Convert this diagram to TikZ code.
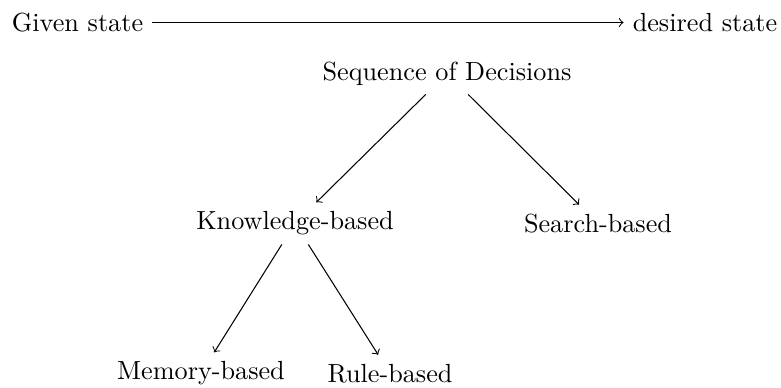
\documentclass[tikz,border=0pt]{standalone}
\begin{document}
\begin{tikzpicture}[x=0.3817pt, y=-0.3817pt,
  label/.style={inner sep=3.333pt},
  link/.style={->}]
  % canvas
  \useasboundingbox (0,0) rectangle (781,387);
  % start and goal
  \node[label] (given)   at (77.5,22.5) {Given state};
  \node[label] (desired) at (705,22.5)  {desired state};
  \draw[link] (given) -- (desired);
  % decision tree
  \node[label] (seq)    at (447,73.4)  {Sequence of Decisions};
  \node[label] (know)   at (295,223.4) {Knowledge-based};
  \node[label] (search) at (598,223.4) {Search-based};
  \node[label] (memory) at (201,373.4) {Memory-based};
  \node[label] (rule)   at (390,373.4) {Rule-based};
  \draw[link] (seq) -- (know);
  \draw[link] (seq) -- (search);
  \draw[link] (know) -- (memory);
  \draw[link] (know) -- (rule);
\end{tikzpicture}
\end{document}
